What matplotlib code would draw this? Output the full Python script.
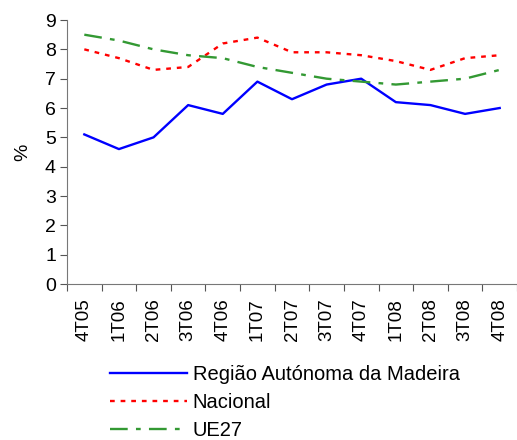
import matplotlib.pyplot as plt

plt.rcParams['font.family'] = ['Liberation Sans', 'DejaVu Sans']

trimestres = ['4T05', '1T06', '2T06', '3T06', '4T06', '1T07', '2T07',
              '3T07', '4T07', '1T08', '2T08', '3T08', '4T08']
madeira = [5.1, 4.6, 5.0, 6.1, 5.8, 6.9, 6.3, 6.8, 7.0, 6.2, 6.1, 5.8, 6.0]
nacional = [8.0, 7.7, 7.3, 7.4, 8.2, 8.4, 7.9, 7.9, 7.8, 7.6, 7.3, 7.7, 7.8]
ue27 = [8.5, 8.3, 8.0, 7.8, 7.7, 7.4, 7.2, 7.0, 6.9, 6.8, 6.9, 7.0, 7.3]

fig = plt.figure(figsize=(5.17, 4.4), dpi=100)
ax = fig.add_axes([0.1296, 0.3545, 0.8704, 0.6])

x = range(len(trimestres))
ax.plot(x, madeira, color='#0000FF', lw=1.7, label='Região Autónoma da Madeira')
ax.plot(x, nacional, color='#FF0000', lw=1.7, linestyle=(0, (2, 2.5)), label='Nacional')
ax.plot(x, ue27, color='#339933', lw=1.7, linestyle=(0, (7.5, 3.5, 2, 3.5)), label='UE27')

ax.set_xlim(-0.5, len(trimestres) - 0.5)
ax.set_ylim(0, 9)
ax.set_yticks(range(0, 10))
ax.set_xticks([i - 0.5 for i in range(len(trimestres) + 1)])
ax.set_xticklabels([])
ax.set_xticks(list(x), minor=True)
ax.set_xticklabels(trimestres, minor=True, rotation=90)
ax.tick_params(axis='x', which='minor', length=0, pad=10, labelsize=13.5)
ax.tick_params(axis='x', which='major', length=5, color='#555555')
ax.tick_params(axis='y', length=5, labelsize=14, color='#555555', pad=3)

for s in ['top', 'right']:
    ax.spines[s].set_visible(False)
for s in ['left', 'bottom']:
    ax.spines[s].set_color('#777777')

ax.set_ylabel('%', fontsize=14, labelpad=10)

fig.legend(loc='upper left', bbox_to_anchor=(0.213, 0.17), frameon=False,
           fontsize=14.5, handlelength=3.8, handletextpad=0.3, labelspacing=0.45,
           borderaxespad=0, borderpad=0)

fig.savefig('out.png', dpi=100)
